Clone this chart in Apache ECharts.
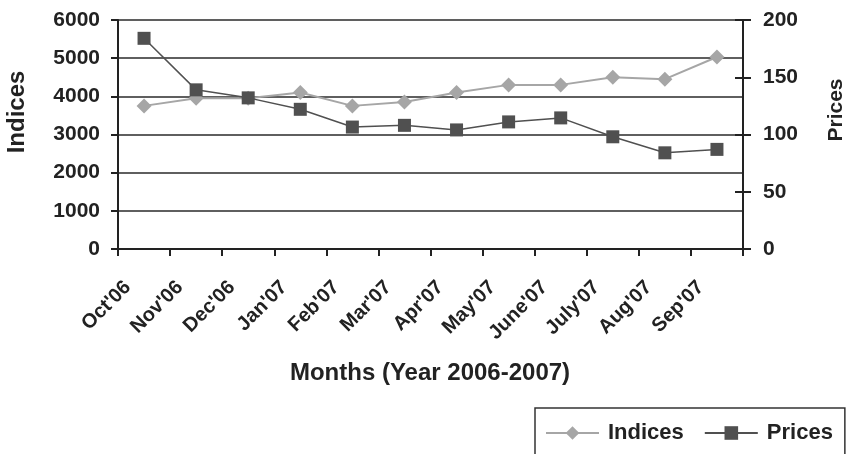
<!DOCTYPE html>
<html>
<head>
<meta charset="utf-8">
<script src="https://cdn.jsdelivr.net/npm/echarts@6/dist/echarts.min.js"></script>
<style>html,body{margin:0;padding:0;background:#fff;}#c{width:848px;height:454px;}</style>
</head>
<body>
<div id="c"></div>
<script>
const months = ["Oct'06","Nov'06","Dec'06","Jan'07","Feb'07","Mar'07","Apr'07","May'07","June'07","July'07","Aug'07","Sep'07"];
const indices = [3750, 3950, 3950, 4100, 3750, 3850, 4100, 4300, 4300, 4500, 4450, 5030];
const prices = [184, 139, 132, 122, 106.5, 108, 104, 111, 114.5, 98, 84, 87];
const leftTicks = {min: 0, max: 6000, interval: 1000};
const rightTicks = {min: 0, max: 200, interval: 50};

const FONT = '"Liberation Sans", Arial, sans-serif';
const chart = echarts.init(document.getElementById('c'), null, {renderer: 'canvas'});
const axisLine = {show: true, lineStyle: {color: '#222', width: 2}};
const plain = v => String(v);
chart.setOption({
  animation: false,
  backgroundColor: '#fff',
  grid: {left: 118, right: 105, top: 20, bottom: 205, containLabel: false, outerBoundsMode: 'none'},
  legend: {
    left: 535, top: 408, width: 400,
    orient: 'horizontal',
    padding: [14, 12, 30, 10],
    borderColor: '#333', borderWidth: 1.5,
    itemWidth: 53, itemHeight: 17, itemGap: 20,
    textStyle: {fontFamily: FONT, fontWeight: 'bold', fontSize: 22, color: '#222', padding: [0, 0, 0, 4]},
    data: ['Indices', 'Prices']
  },
  graphic: [
    {type: 'text', x: 17, y: 112, rotation: Math.PI / 2,
     style: {text: 'Indices', font: 'bold 24px ' + FONT, fill: '#222', textAlign: 'center', textVerticalAlign: 'middle'}},
    {type: 'text', x: 836, y: 110, rotation: Math.PI / 2,
     style: {text: 'Prices', font: 'bold 21px ' + FONT, fill: '#222', textAlign: 'center', textVerticalAlign: 'middle'}},
    {type: 'text', x: 430, y: 373,
     style: {text: 'Months (Year 2006-2007)', font: 'bold 24px ' + FONT, fill: '#222', textAlign: 'center', textVerticalAlign: 'middle'}}
  ],
  xAxis: {
    type: 'category', data: months, boundaryGap: true,
    axisLine: axisLine,
    axisTick: {show: true, length: 7, alignWithLabel: false, lineStyle: {color: '#222', width: 2}},
    axisLabel: {interval: 0, rotate: 45, margin: 19, padding: [0, 23, 0, 0],
      fontFamily: FONT, fontWeight: 'bold', fontSize: 20, color: '#222'},
    splitLine: {show: false}
  },
  yAxis: [
    Object.assign({type: 'value', position: 'left',
      axisLine: axisLine,
      axisTick: {show: true, length: 7, lineStyle: {color: '#222', width: 2}},
      axisLabel: {margin: 18, formatter: plain, fontFamily: FONT, fontWeight: 'bold', fontSize: 21, color: '#222'},
      splitLine: {show: true, lineStyle: {color: '#2a2a2a', width: 1.5}}
    }, leftTicks),
    Object.assign({type: 'value', position: 'right',
      axisLine: axisLine,
      axisTick: {show: true, length: 8, lineStyle: {color: '#222', width: 2}},
      axisLabel: {margin: 20, formatter: plain, fontFamily: FONT, fontWeight: 'bold', fontSize: 21, color: '#222'},
      splitLine: {show: false}
    }, rightTicks),
    Object.assign({type: 'value', position: 'right', offset: 0,
      axisLine: {show: false},
      axisTick: {show: true, inside: true, length: 8, lineStyle: {color: '#222', width: 2}},
      axisLabel: {show: false},
      splitLine: {show: false}
    }, rightTicks)
  ],
  series: [
    {name: 'Indices', type: 'line', yAxisIndex: 0, data: indices,
     symbol: 'diamond', symbolSize: 15, showAllSymbol: true,
     lineStyle: {color: '#a6a6a6', width: 2}, itemStyle: {color: '#a6a6a6'}, z: 3},
    {name: 'Prices', type: 'line', yAxisIndex: 1, data: prices,
     symbol: 'rect', symbolSize: 13, showAllSymbol: true,
     lineStyle: {color: '#505050', width: 1.5}, itemStyle: {color: '#505050'}, z: 4}
  ]
});
</script>
</body>
</html>
